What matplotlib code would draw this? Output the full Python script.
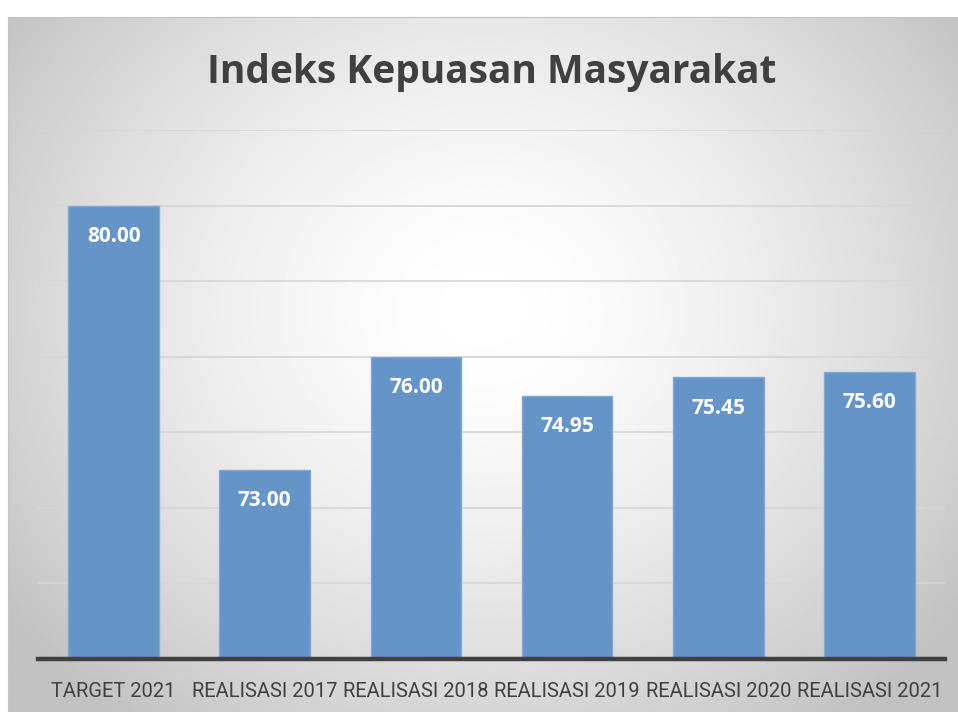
import numpy as np
import matplotlib.pyplot as plt

# data
kategori = ["TARGET 2021", "REALISASI 2017", "REALISASI 2018",
            "REALISASI 2019", "REALISASI 2020", "REALISASI 2021"]
nilai = [80.00, 73.00, 76.00, 74.95, 75.45, 75.60]

W, H = 958, 712
fig = plt.figure(figsize=(W / 100, H / 100), dpi=100)

# latar belakang dengan gradien radial (putih di tengah, abu-abu di tepi)
bg = fig.add_axes([8 / W, 0, (W - 8) / W, (H - 17) / H])
yy, xx = np.mgrid[0:1:300j, 0:1:400j]
r = np.sqrt(((xx - 0.5) / 0.62) ** 2 + ((yy - 0.42) / 0.75) ** 2)
shade = 1.0 - 0.24 * np.clip(r, 0, 1) ** 1.6
bg.imshow(shade, cmap="gray", vmin=0, vmax=1, aspect="auto",
          extent=[0, 1, 0, 1], origin="upper")
bg.set_xlim(0, 1)
bg.set_ylim(0, 1)
for s in bg.spines.values():
    s.set_visible(False)
bg.spines["top"].set_visible(True)
bg.spines["left"].set_visible(True)
bg.spines["top"].set_color("#c4c4c4")
bg.spines["left"].set_color("#c4c4c4")
bg.set_xticks([])
bg.set_yticks([])

# area grafik
ax = fig.add_axes([38 / W, (H - 659) / H, (945 - 38) / W, (659 - 130) / H])
ax.patch.set_alpha(0)
x = np.arange(len(kategori))
ax.bar(x, np.array(nilai) - 68, bottom=68, width=0.6, color="#6794c8",
       edgecolor="#84a8d4", linewidth=1, zorder=3)
ax.set_xlim(-0.5, len(kategori) - 0.5)
ax.set_ylim(68, 82)
ax.set_yticks(np.arange(70, 83, 2))
ax.yaxis.grid(True, color="#d6d6d6", linewidth=1.2, zorder=0)
ax.tick_params(axis="y", left=False, labelleft=False)
ax.tick_params(axis="x", bottom=False)
for s in ["top", "right", "left"]:
    ax.spines[s].set_visible(False)
ax.spines["bottom"].set_color("#404040")
ax.spines["bottom"].set_linewidth(3.2)
ax.spines["bottom"].set_zorder(4)

ax.set_xticks(x)
ax.set_xticklabels(kategori, fontsize=14.5, color="#404040", family="Roboto")
ax.tick_params(axis="x", pad=13)

for xi, v in zip(x, nilai):
    ax.annotate(f"{v:.2f}", (xi, v), xytext=(0, -22), textcoords="offset points",
                ha="center", va="center", color="white", fontsize=15,
                fontweight="bold", family="Open Sans", zorder=5)

fig.text(492 / W, 1 - 72 / H, "Indeks Kepuasan Masyarakat", ha="center",
         va="center", fontsize=28, fontweight="bold", color="#404040",
         family="Open Sans")

fig.savefig("out.png", dpi=100)
